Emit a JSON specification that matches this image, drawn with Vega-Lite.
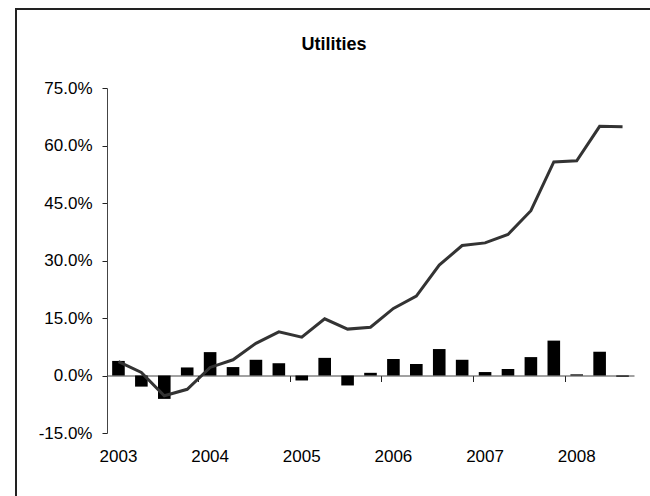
{
  "$schema": "https://vega.github.io/schema/vega-lite/v6.json",
  "width": 634,
  "height": 487,
  "autosize": {"type": "none"},
  "padding": {"left": 16, "top": 9, "right": 0, "bottom": 0},
  "background": "white",
  "title": {
    "text": "Utilities",
    "font": "Liberation Sans",
    "fontSize": 18,
    "fontWeight": "bold",
    "color": "#000",
    "anchor": "middle",
    "frame": "group",
    "offset": -59,
    "dx": 1,
    "baseline": "alphabetic"
  },
  "config": {
    "view": {"stroke": "#222", "strokeWidth": 2, "strokeDash": [634, 1121, 487]},
    "axis": {
      "labelFont": "Liberation Sans",
      "labelFontSize": 17,
      "labelColor": "#000",
      "domainColor": "#444",
      "tickColor": "#222",
      "grid": false,
      "title": null
    }
  },
  "data": {
    "values": [
      {"q": "2003-1", "ret": 0.038, "cum": 0.036},
      {"q": "2003-2", "ret": -0.029, "cum": 0.008},
      {"q": "2003-3", "ret": -0.061, "cum": -0.053},
      {"q": "2003-4", "ret": 0.021, "cum": -0.036},
      {"q": "2004-1", "ret": 0.061, "cum": 0.021},
      {"q": "2004-2", "ret": 0.022, "cum": 0.041},
      {"q": "2004-3", "ret": 0.041, "cum": 0.084},
      {"q": "2004-4", "ret": 0.032, "cum": 0.114},
      {"q": "2005-1", "ret": -0.013, "cum": 0.100},
      {"q": "2005-2", "ret": 0.046, "cum": 0.148},
      {"q": "2005-3", "ret": -0.026, "cum": 0.121},
      {"q": "2005-4", "ret": 0.007, "cum": 0.126},
      {"q": "2006-1", "ret": 0.043, "cum": 0.175},
      {"q": "2006-2", "ret": 0.030, "cum": 0.207},
      {"q": "2006-3", "ret": 0.069, "cum": 0.288},
      {"q": "2006-4", "ret": 0.041, "cum": 0.339},
      {"q": "2007-1", "ret": 0.009, "cum": 0.346},
      {"q": "2007-2", "ret": 0.017, "cum": 0.368},
      {"q": "2007-3", "ret": 0.048, "cum": 0.430},
      {"q": "2007-4", "ret": 0.091, "cum": 0.557},
      {"q": "2008-1", "ret": 0.003, "cum": 0.560},
      {"q": "2008-2", "ret": 0.062, "cum": 0.650},
      {"q": "2008-3", "ret": -0.003, "cum": 0.649}
    ]
  },
  "encoding": {
    "x": {
      "field": "q",
      "type": "ordinal",
      "sort": null,
      "scale": {"range": [91, 618], "paddingInner": 0, "paddingOuter": 0},
      "axis": {
        "orient": "bottom",
        "offset": -120.5,
        "values": ["2003-1", "2004-1", "2005-1", "2006-1", "2007-1", "2008-1"],
        "bandPosition": 0,
        "tickSize": 6,
        "labelPadding": 67,
        "labelAngle": 0,
        "labelFlush": false,
        "labelOverlap": false,
        "labelExpr": "substring(datum.value, 0, 4)"
      }
    }
  },
  "layer": [
    {
      "mark": {"type": "bar", "color": "#000", "width": {"band": 0.55}},
      "encoding": {
        "y": {
          "field": "ret",
          "type": "quantitative",
          "scale": {"domain": [-0.15, 0.75], "range": [424, 79], "nice": false, "zero": false},
          "axis": {
            "offset": -91,
            "values": [-0.15, 0, 0.15, 0.3, 0.45, 0.6, 0.75],
            "tickSize": 5,
            "labelPadding": 10,
            "labelExpr": "replace(format(datum.value, '.1%'), '\u2212', '-')"
          }
        }
      }
    },
    {
      "mark": {"type": "line", "color": "#333", "strokeWidth": 3},
      "encoding": {
        "y": {"field": "cum", "type": "quantitative"}
      }
    }
  ]
}
